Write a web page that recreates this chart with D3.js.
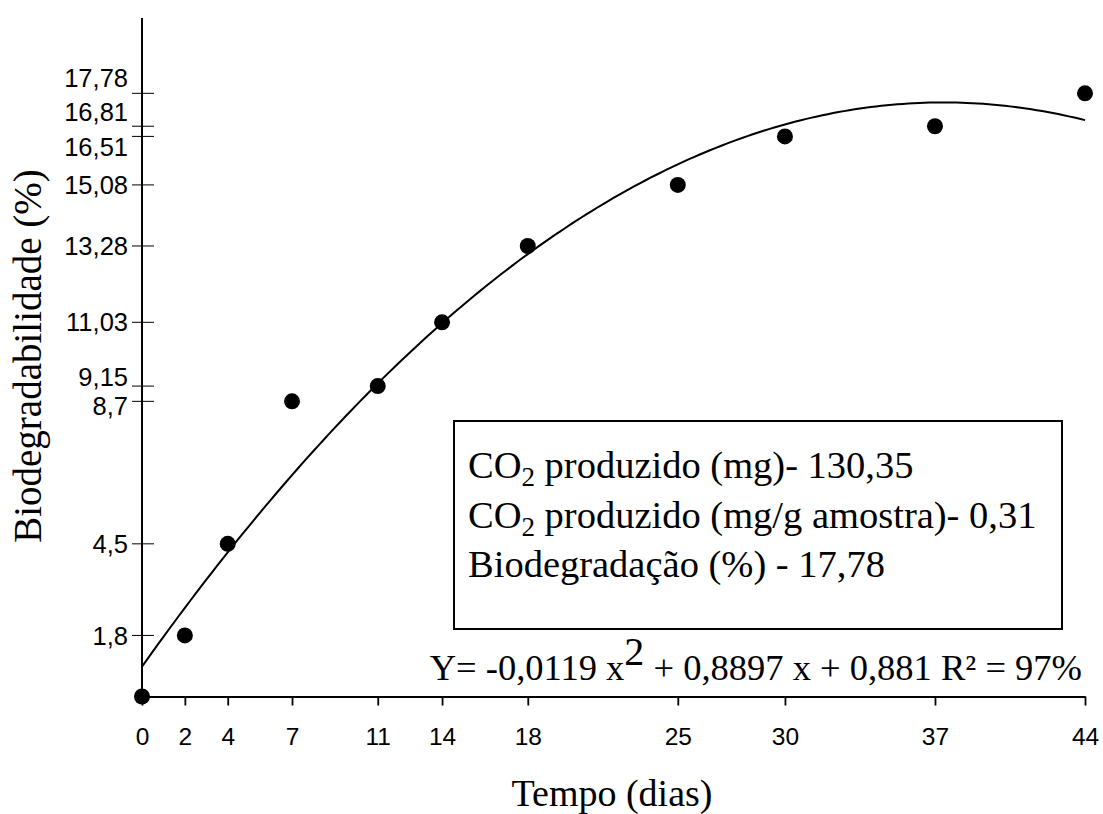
<!DOCTYPE html>
<html><head><meta charset="utf-8">
<script src="https://cdn.jsdelivr.net/npm/d3@7"></script>
<style>body{margin:0;background:#fff}</style>
</head><body>
<svg id="c" width="1103" height="814"></svg>
<script>
const days = [0, 2, 4, 7, 11, 14, 18, 25, 30, 37, 44];
const biodeg = [0, 1.8, 4.5, 8.7, 9.15, 11.03, 13.28, 15.08, 16.51, 16.81, 17.78];
const yTickVals = [1.8, 4.5, 8.7, 9.15, 11.03, 13.28, 15.08, 16.51, 16.81, 17.78];
const yTickLabels = ["1,8", "4,5", "8,7", "9,15", "11,03", "13,28", "15,08", "16,51", "16,81", "17,78"];
const coef = [-0.0119, 0.8897, 0.881];

const svg = d3.select("#c");
const x = d3.scaleLinear().domain([0, 44]).range([142, 1085]);
const y = d3.scaleLinear().domain([0, 20]).range([696.5, 18]);
const af = "Arial, 'Liberation Sans', sans-serif";
const tf = "'Liberation Serif', 'Times New Roman', serif";

// x axis
const xAxis = d3.axisBottom(x).tickValues(days).tickSize(9).tickSizeOuter(0).tickPadding(22);
const gx = svg.append("g").attr("transform", "translate(0,696.5)").call(xAxis);
gx.select(".domain").attr("stroke", "#000").attr("stroke-width", 2);
gx.selectAll(".tick line").attr("stroke", "#000").attr("stroke-width", 1.8);
gx.selectAll(".tick text").attr("font-family", af).attr("font-size", 24.5).attr("fill", "#000");

// y axis
const gy = svg.append("g").attr("transform", "translate(142,0)");
gy.append("line").attr("x1", 0).attr("x2", 0).attr("y1", y(20)).attr("y2", y(0)).attr("stroke", "#000").attr("stroke-width", 2);
const yt = gy.selectAll("g.t").data(yTickVals).enter().append("g").attr("class", "t")
  .attr("transform", d => `translate(0,${y(d)})`);
yt.append("line").attr("x1", -10).attr("x2", 12).attr("stroke", "#000").attr("stroke-width", 1);
const labelOffset = {16.51: 10.5, 16.81: -14.5, 17.78: -16, 9.15: -9, 8.7: 4};
yt.append("text").attr("x", -14).attr("dy", d => (0.36 * 25.5 + (labelOffset[d] || 0)))
  .attr("text-anchor", "end").attr("font-family", af).attr("font-size", 25.5)
  .text((d, i) => yTickLabels[i]);

// fitted curve
const curveX = d3.range(0, 44.01, 0.25);
const line = d3.line().x(d => x(d)).y(d => y(coef[0]*d*d + coef[1]*d + coef[2]));
svg.append("path").datum(curveX).attr("d", line).attr("fill", "none").attr("stroke", "#000").attr("stroke-width", 2);

// points
svg.selectAll("circle.p").data(days).enter().append("circle").attr("class", "p")
  .attr("cx", d => x(d)).attr("cy", (d, i) => y(biodeg[i])).attr("r", 8).attr("fill", "#000");

// box
svg.append("rect").attr("x", 454).attr("y", 421).attr("width", 608).attr("height", 208)
  .attr("fill", "#fff").attr("stroke", "#000").attr("stroke-width", 2);
const boxLines = [
  {pre: "CO", sub: "2", post: " produzido (mg)- 130,35"},
  {pre: "CO", sub: "2", post: " produzido (mg/g amostra)- 0,31"},
  {pre: "Biodegradação (%) - 17,78", sub: "", post: ""}
];
boxLines.forEach((l, i) => {
  const t = svg.append("text").attr("x", 468).attr("y", 478 + i * 49.5).attr("font-family", tf).attr("font-size", 38.5);
  t.append("tspan").text(l.pre);
  if (l.sub) {
    t.append("tspan").attr("font-size", 27).attr("dy", 8).text(l.sub);
    t.append("tspan").attr("dy", -8).text(l.post);
  }
});

// equation
const eq = svg.append("text").attr("x", 1082).attr("y", 680).attr("text-anchor", "end").attr("font-family", tf).attr("font-size", 36.5);
eq.append("tspan").text("Y= -0,0119 x");
eq.append("tspan").attr("font-size", 40).attr("dy", -15).text("2");
eq.append("tspan").attr("dy", 15).text(" + 0,8897 x + 0,881 R² = 97%");

// axis titles
svg.append("text").attr("x", 612).attr("y", 806).attr("text-anchor", "middle").attr("font-family", tf).attr("font-size", 38).text("Tempo (dias)");
svg.append("text").attr("transform", "translate(41,356) rotate(-90)").attr("text-anchor", "middle").attr("font-family", tf).attr("font-size", 39).text("Biodegradabilidade (%)");
</script>
</body></html>
